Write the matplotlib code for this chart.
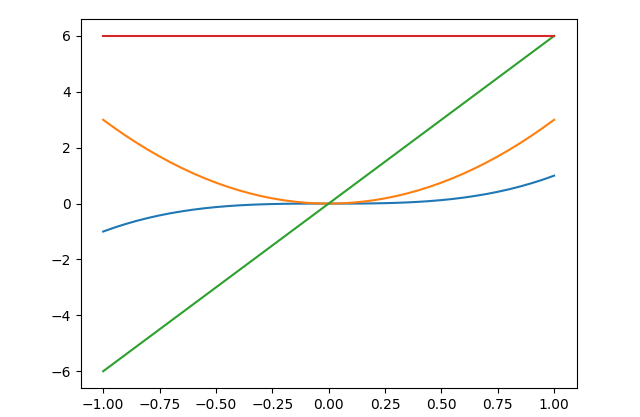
import matplotlib
matplotlib.use("Agg")
import matplotlib.pyplot as plt

x = [-1.0, -0.95, -0.9, -0.85, -0.8, -0.75, -0.7, -0.65, -0.6, -0.55, -0.5,
     -0.45, -0.4, -0.35, -0.3, -0.25, -0.2, -0.15, -0.1, -0.05, 0.0,
     0.05, 0.1, 0.15, 0.2, 0.25, 0.3, 0.35, 0.4, 0.45, 0.5,
     0.55, 0.6, 0.65, 0.7, 0.75, 0.8, 0.85, 0.9, 0.95, 1.0]
cubic = [-1.0, -0.857, -0.729, -0.614, -0.512, -0.422, -0.343, -0.275, -0.216, -0.166, -0.125,
         -0.091, -0.064, -0.043, -0.027, -0.016, -0.008, -0.003, -0.001, -0.0001, 0.0,
         0.0001, 0.001, 0.003, 0.008, 0.016, 0.027, 0.043, 0.064, 0.091, 0.125,
         0.166, 0.216, 0.275, 0.343, 0.422, 0.512, 0.614, 0.729, 0.857, 1.0]
quad = [3.0, 2.708, 2.43, 2.168, 1.92, 1.688, 1.47, 1.268, 1.08, 0.908, 0.75,
        0.608, 0.48, 0.368, 0.27, 0.188, 0.12, 0.068, 0.03, 0.008, 0.0,
        0.008, 0.03, 0.068, 0.12, 0.188, 0.27, 0.368, 0.48, 0.608, 0.75,
        0.908, 1.08, 1.268, 1.47, 1.688, 1.92, 2.168, 2.43, 2.708, 3.0]
lin_x = [-1.0, 1.0]
lin = [-6.0, 6.0]
const = [6.0, 6.0]

fig = plt.figure(figsize=(6.4, 4.17), dpi=100)
ax = fig.add_subplot(111)
fig.subplots_adjust(left=0.126, right=0.901, top=0.954, bottom=0.0695)

ax.plot(x, cubic, color="#1f77b4")
ax.plot(x, quad, color="#ff7f0e")
ax.plot(lin_x, lin, color="#2ca02c")
ax.plot(lin_x, const, color="#d62728")

fig.savefig("out.png", dpi=100)
